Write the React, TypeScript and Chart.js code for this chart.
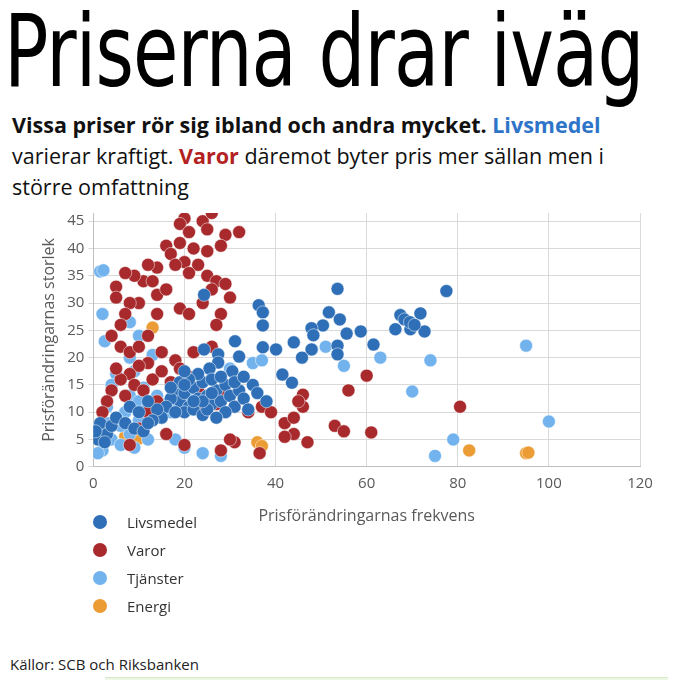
import React, { useEffect, useRef } from "react";
import { Chart, registerables } from "chart.js";
Chart.register(...registerables);

const seriesNames = ["Livsmedel", "Varor", "Tjänster", "Energi"];
const seriesColors = ["#2e6fb7", "#a82a2c", "#72b3ee", "#eb9c34"];
const xTicks = [0, 20, 40, 60, 80, 100, 120];
const yTicks = [0, 5, 10, 15, 20, 25, 30, 35, 40, 45];

const livsmedel: [number, number][] = [
  [53.6,32.6],[77.5,32.2],[51.7,28.3],[54.1,27],[50.4,25.9],[58.7,24.8],[67.4,27.8],[68.3,27],[71.8,28.1],[66.3,25.2],[69.6,25.2],[72.7,24.8],[47.9,25.4],[48.3,24.1],[55.6,24.4],[44,22.8],[47.9,21.5],[40.1,21.5],[53.6,22.2],[61.5,22.4],[53.6,20.6],[41.5,16.9],[43.6,15.4],[45.8,20],[69.5,26.5],[70.5,26],
  [24.3,31.5],[36.3,29.6],[37.2,28.3],[37.2,25.9],[37.2,21.9],[31.1,23],[24.3,21.5],[27.4,20.6],[32,20.2],[35,15],[27.4,19.1],[30.5,17.5],[25.5,18],
  [18,14],[19,12],[20,13.5],[21,11],[22,14.5],[23,12.5],[24,15.5],[25,13],[26,11.5],[27,14],[28,12],[29,15],[30,13],[31,11],[32,14],[33,12.5],[34,10.5],[20,10],[22,10.5],[24,9.5],[26,16],[28,16.5],[23,17],[21,16],[19,15.5],[17,12.5],[16,11],[18,10],[25,10.5],[29,10],[31,15.5],[27,9],[24,12],[26,13.5],[22,12],[20,15],[15,9],[14,10.5],[13,8.5],[12,12],[36,13.5],[38,12],[33,16.5],[20,17.5],[17,14.5],
  [1,5],[2,7],[3,6],[1.5,8],[0.5,6.5],[2.5,4.5],[4,7.5],[5,9],[7,8],[8,11],[9,7],[10,10],[11,6.5],[12,8]
];

const varor: [number, number][] = [
  [20,45.5],[19,44.5],[24,45],[26,46.5],[21,43],[25,43.5],[19,41],[16,40.5],[17,39],[22,40],[25,39.5],[29,42.5],[32,43],[28,40.5],[20,37.5],[23,37],[18,37],[21,35.5],[14,36.5],[12,37],[25,35],[27,34],[29,33.5],[26,32.5],[11,34],[9,35],[7,35.5],[13,34],[5,33],[14,31.5],[16,32.5],[10,30],[8,30],[5,31],[7,28],[6,26],[4,24],[6,22],[8,21],[10,22],[12,24],[14,28],[19,29],[21,28],[24,30],[28,28],[30,31],[27,26],[26,22],[22,21],[18,19.5],[15,21],[12,19],[10,18.5],[8,17],[6,16],[4,14],[3,12],[2,10],[5,18],[7,13],[9,15],[11,14],[13,16],[15,17.5],[17,15.5],[19,18],[21,16.5],[23,14],[25,13],[27,11.5],[29,13.5],[31,11],[14,12],[12,10],[10,7],[8,4],[16,6],[20,4],[28,3],[31,4.5],[30,5],[37,11],[39,10],[42,8],[44,9],[46,11],[44,6],[42,5.5],[47,4.5],[53,7.5],[55,6.5],[56,14],[60,16.7],[61,6.3],[80.5,11],[36.5,2.5],[24,10],[34,10],[46,13.2],[45,12]
];

const tjanster: [number, number][] = [
  [1.5,35.8],[2.2,36],[2,28],[8,26.5],[10,24],[2.5,23],[8,20],[13,20.5],[5,17],[4,15],[8,13],[10,12],[12,11],[14,13],[16,11.5],[18,12],[20,13],[22,14],[24,11],[11,14.5],[7,10],[5,9],[3,8],[1,7],[4,5],[6,4],[9,3.5],[12,5],[15,9],[17,10],[2,3],[1,2.5],[20,3.5],[24,2.5],[28,2],[18,5],[26,16],[30,18],[35,19],[37,19.5],[51,22],[48,21.5],[55,18.5],[63,20],[70,13.8],[74,19.5],[95,22.2],[100,8.3],[79,5],[75,2],[8,6],[6,7.5],[10,8.5],[3,11],[9,17.5]
];

const energi: [number, number][] = [
  [13,25.5],[7,5.6],[10,5.2],[36,4.5],[37,3.8],[82.5,3],[95,2.5],[95.5,2.6]
];

const allSeries = [livsmedel, varor, tjanster, energi];

export default function App() {
  const ref = useRef<HTMLCanvasElement>(null);
  useEffect(() => {
    const chart = new Chart(ref.current!, {
      type: "scatter",
      data: {
        datasets: allSeries.map((s, i) => ({
          label: seriesNames[i],
          data: s.map(([x, y]) => ({ x, y })),
          backgroundColor: seriesColors[i],
          borderColor: "#ffffff",
          borderWidth: 0.5,
          pointRadius: 6.5,
        })),
      },
      options: {
        animation: false,
        responsive: false,
        layout: { padding: { top: 12, right: 36, left: 36 } },
        plugins: { legend: { display: false }, tooltip: { enabled: false } },
        scales: {
          x: {
            min: 0, max: 120,
            afterBuildTicks: (a: any) => { a.ticks = xTicks.map((v) => ({ value: v })); },
            grid: { color: "#d9d9d9", drawTicks: false },
            border: { color: "#bfbfbf" },
            ticks: { color: "#595959", font: { size: 15, family: "Open Sans" }, padding: 8 },
            title: { display: true, text: "Prisförändringarnas frekvens", color: "#595959", font: { size: 16, family: "Open Sans" }, padding: { top: 6 } },
          },
          y: {
            min: 0, max: 46.5,
            afterBuildTicks: (a: any) => { a.ticks = yTicks.map((v) => ({ value: v })); },
            grid: { color: "#d9d9d9", drawTicks: true, tickLength: 5 },
            border: { color: "#bfbfbf" },
            ticks: { color: "#595959", font: { size: 15, family: "Open Sans" }, padding: 4 },
            title: { display: true, text: "Prisförändringarnas storlek", color: "#595959", font: { size: 16, family: "Open Sans" }, padding: 4 },
          },
        },
      },
    });
    return () => chart.destroy();
  }, []);

  return (
    <div style={{ position: "relative", width: 676, height: 688, margin: -8, overflow: "hidden", background: "#fff", fontFamily: "Open Sans" }}>
      <div style={{ position: "absolute", left: 4, top: 0, fontFamily: "'Liberation Sans Narrow', 'DejaVu Sans Condensed', sans-serif", fontSize: 100, lineHeight: "104px", transform: "scaleX(0.82)", transformOrigin: "left", color: "#000", whiteSpace: "nowrap", letterSpacing: -1 }}>
        Priserna drar iväg
      </div>
      <div style={{ position: "absolute", left: 12, top: 109, width: 640, fontSize: 21.5, lineHeight: "31px", color: "#111" }}>
        <b>Vissa priser rör sig ibland och andra mycket. <span style={{ color: "#2e75c9" }}>Livsmedel</span></b> varierar kraftigt. <b style={{ color: "#b22222" }}>Varor</b> däremot byter pris mer sällan men i större omfattning
      </div>
      <canvas ref={ref} width={676} height={330} style={{ position: "absolute", left: 0, top: 200 }} />
      {seriesNames.map((n, i) => (
        <div key={n} style={{ position: "absolute", left: 93, top: 512 + i * 28, display: "flex", alignItems: "center", fontSize: 15, color: "#333" }}>
          <span style={{ width: 14, height: 14, borderRadius: 7, background: seriesColors[i], display: "inline-block", marginRight: 20 }} />
          {n}
        </div>
      ))}
      <div style={{ position: "absolute", left: 10, top: 654, fontSize: 15, color: "#222" }}>Källor: SCB och Riksbanken</div>
      <div style={{ position: "absolute", left: 105, top: 677, width: 580, height: 20, background: "#eef7e6", borderTop: "1px solid #d7e8c8" }} />
    </div>
  );
}
